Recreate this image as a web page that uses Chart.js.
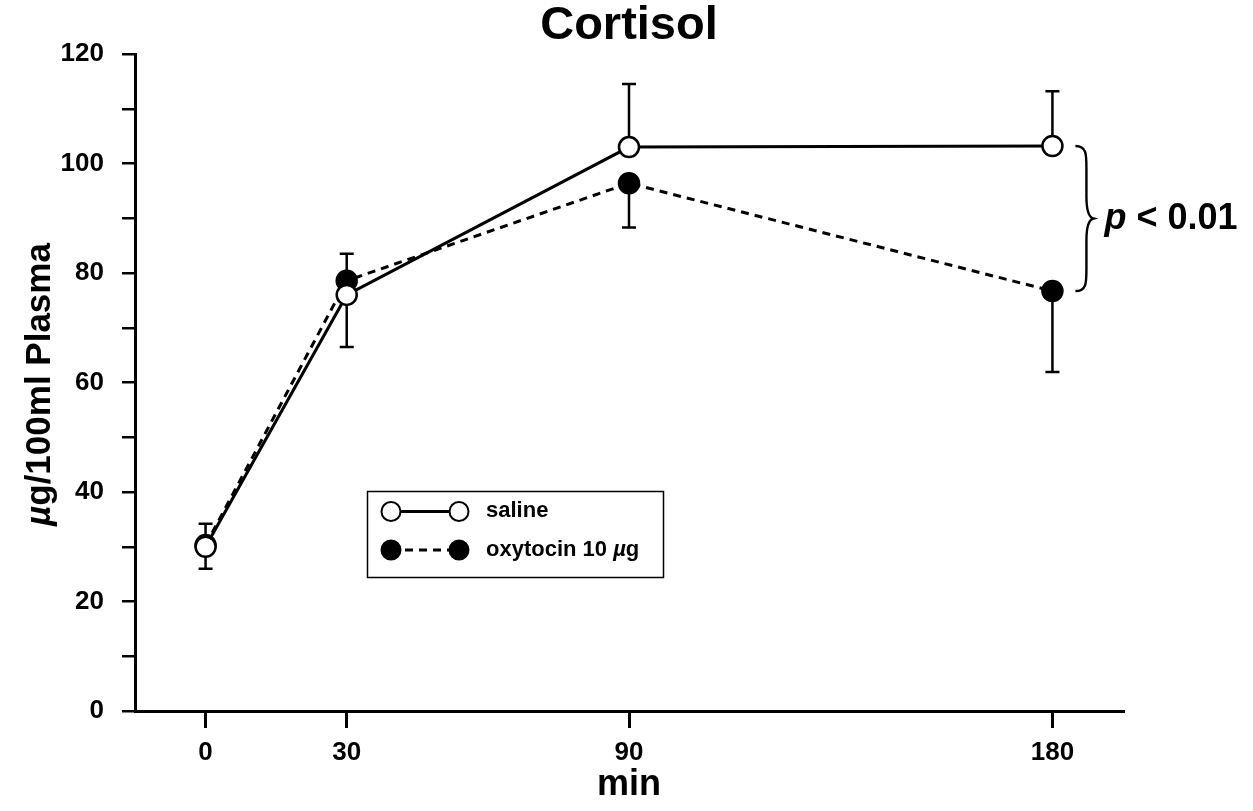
<!DOCTYPE html>
<html><head><meta charset="utf-8">
<script src="https://cdn.jsdelivr.net/npm/chart.js@4"></script>
<style>html,body{margin:0;padding:0;background:#fff}#wrap{width:1253px;height:811px}</style>
</head><body><div id="wrap"><canvas id="c" width="1253" height="811"></canvas></div>
<script>
const timePoints = [0, 30, 90, 180];
const xTickLabels = [0, 30, 90, 180];
const yTickValues = [0, 10, 20, 30, 40, 50, 60, 70, 80, 90, 100, 110, 120];
const salineMean = [30.0, 76.0, 103.0, 103.2];
const oxytocinMean = [30.3, 78.6, 96.4, 76.7];
const salineErrUpper = [34.2, null, 114.5, 113.2];
const salineErrLower = [null, 66.5, null, null];
const oxytocinErrUpper = [null, 83.5, null, null];
const oxytocinErrLower = [26.0, null, 88.3, 61.9];
const seriesNames = ['saline', 'oxytocin 10 '];

const FF = '"Liberation Sans", Arial, Helvetica, sans-serif';

function drawRuns(ctx, runs, x, y, align) {
  let total = 0;
  runs.forEach(r => { ctx.font = r.font; r.w = ctx.measureText(r.text).width; total += r.w; });
  let sx = align === 'center' ? x - total / 2 : (align === 'right' ? x - total : x);
  ctx.textAlign = 'left';
  runs.forEach(r => { ctx.font = r.font; ctx.fillText(r.text, sx, y); sx += r.w; });
}

const extras = {
  id: 'extras',
  beforeDatasetsDraw(chart) {
    const ctx = chart.ctx, xs = chart.scales.x, ys = chart.scales.y;
    ctx.save();
    ctx.strokeStyle = '#000';
    ctx.lineWidth = 2.5;
    const cap = 7;
    const bars = [[salineMean, salineErrUpper], [salineMean, salineErrLower], [oxytocinMean, oxytocinErrUpper], [oxytocinMean, oxytocinErrLower]];
    bars.forEach(([mean, ends]) => {
      timePoints.forEach((t, i) => {
        if (ends[i] == null) return;
        const px = xs.getPixelForValue(t);
        const p0 = ys.getPixelForValue(mean[i]);
        const p1 = ys.getPixelForValue(ends[i]);
        ctx.beginPath();
        ctx.moveTo(px, p0); ctx.lineTo(px, p1);
        ctx.moveTo(px - cap, p1); ctx.lineTo(px + cap, p1);
        ctx.stroke();
      });
    });
    ctx.restore();
  },
  afterDraw(chart) {
    const ctx = chart.ctx, xs = chart.scales.x, ys = chart.scales.y, ca = chart.chartArea;
    ctx.save();
    ctx.fillStyle = '#000';
    ctx.textBaseline = 'middle';
    // Title
    drawRuns(ctx, [{text: 'Cortisol', font: 'bold 47px ' + FF}], (ca.left + ca.right) / 2, 26, 'center');
    // X title
    drawRuns(ctx, [{text: 'min', font: 'bold 36px ' + FF}], (ca.left + ca.right) / 2, 785, 'center');
    // Y title
    ctx.save();
    ctx.translate(40, (ca.top + ca.bottom) / 2 + 2);
    ctx.rotate(-Math.PI / 2);
    drawRuns(ctx, [{text: '\u00B5', font: 'italic bold 35px ' + FF}, {text: 'g/100ml Plasma', font: 'bold 35px ' + FF}], 0, 0, 'center');
    ctx.restore();

    // Legend
    ctx.strokeStyle = '#000';
    ctx.lineWidth = 1.5;
    ctx.strokeRect(367.5, 491.5, 296, 86);
    const rows = [{y: 511.5, dash: [], fill: '#fff'}, {y: 550, dash: [8, 6], fill: '#000'}];
    rows.forEach(r => {
      ctx.lineWidth = 3;
      ctx.setLineDash(r.dash);
      ctx.beginPath(); ctx.moveTo(391, r.y); ctx.lineTo(459, r.y); ctx.stroke();
      ctx.setLineDash([]);
      ctx.lineWidth = 2;
      [391, 459].forEach(cx => {
        ctx.beginPath(); ctx.arc(cx, r.y, 9.5, 0, Math.PI * 2);
        ctx.fillStyle = r.fill; ctx.fill(); ctx.stroke();
      });
    });
    ctx.fillStyle = '#000';
    drawRuns(ctx, [{text: seriesNames[0], font: 'bold 22px ' + FF}], 486, rows[0].y - 1, 'left');
    drawRuns(ctx, [{text: seriesNames[1], font: 'bold 22px ' + FF}, {text: '\u00B5', font: 'italic bold 22px ' + FF}, {text: 'g', font: 'bold 22px ' + FF}], 486, rows[1].y, 'left');

    // Brace
    const x0 = xs.getPixelForValue(180) + 23;
    const yTop = ys.getPixelForValue(salineMean[3]);
    const yBot = ys.getPixelForValue(oxytocinMean[3]);
    const yMid = (yTop + yBot) / 2;
    const w = 11;
    ctx.lineWidth = 2.4;
    ctx.beginPath();
    ctx.moveTo(x0, yTop);
    ctx.bezierCurveTo(x0 + w, yTop, x0 + w, yTop + 8, x0 + w, yTop + 22);
    ctx.lineTo(x0 + w, yMid - 22);
    ctx.bezierCurveTo(x0 + w, yMid - 6, x0 + w + 3, yMid - 1, x0 + w + 7, yMid);
    ctx.bezierCurveTo(x0 + w + 3, yMid + 1, x0 + w, yMid + 6, x0 + w, yMid + 22);
    ctx.lineTo(x0 + w, yBot - 22);
    ctx.bezierCurveTo(x0 + w, yBot - 8, x0 + w, yBot, x0, yBot);
    ctx.stroke();
    drawRuns(ctx, [{text: 'p', font: 'italic bold 36px ' + FF}, {text: ' < 0.01', font: 'bold 36px ' + FF}], x0 + 29, yMid + 1, 'left');
    ctx.restore();
  }
};

const tickFont = {family: FF, size: 26, weight: 'bold'};

new Chart(document.getElementById('c'), {
  type: 'line',
  data: {
    datasets: [
      {
        label: seriesNames[0],
        data: timePoints.map((t, i) => ({x: t, y: salineMean[i]})),
        borderColor: '#000', borderWidth: 3, tension: 0,
        pointRadius: 10, pointBackgroundColor: '#fff', pointBorderColor: '#000', pointBorderWidth: 2.5
      },
      {
        label: seriesNames[1],
        data: timePoints.map((t, i) => ({x: t, y: oxytocinMean[i]})),
        borderColor: '#000', borderWidth: 3, borderDash: [8, 6], tension: 0,
        pointRadius: 10, pointBackgroundColor: '#000', pointBorderColor: '#000', pointBorderWidth: 2.5
      }
    ]
  },
  options: {
    responsive: false, animation: false, devicePixelRatio: 1,
    layout: {padding: {top: 54, right: 130, left: 0, bottom: 0}},
    plugins: {legend: {display: false}, tooltip: {enabled: false}, title: {display: false}},
    scales: {
      x: {
        type: 'linear', min: -15, max: 195,
        afterBuildTicks: s => { s.ticks = xTickLabels.map(v => ({value: v})); },
        afterFit: s => { s.height = 100; },
        grid: {display: true, drawOnChartArea: false, drawTicks: true, tickLength: 17, color: '#000', lineWidth: 3},
        border: {display: true, color: '#000', width: 3},
        ticks: {font: tickFont, color: '#000', padding: 9, maxRotation: 0, autoSkip: false}
      },
      y: {
        min: 0, max: 120,
        afterBuildTicks: s => { s.ticks = yTickValues.map(v => ({value: v})); },
        afterFit: s => { s.width = 135; },
        grid: {display: true, drawOnChartArea: false, drawTicks: true, tickLength: 13, color: '#000', lineWidth: 2.5},
        border: {display: true, color: '#000', width: 3},
        ticks: {font: tickFont, color: '#000', padding: 18, autoSkip: false, callback: v => (v % 20 === 0 ? String(v) : '')}
      }
    }
  },
  plugins: [extras]
});
</script></body></html>
